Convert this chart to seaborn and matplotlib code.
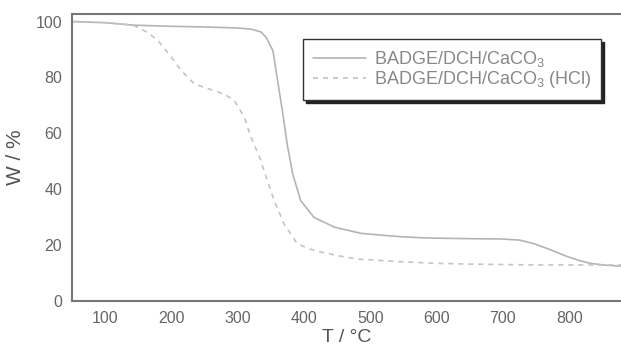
import matplotlib
matplotlib.use("Agg")
import matplotlib.pyplot as plt
import seaborn as sns
import pandas as pd

# TGA curves: temperature (°C) vs residual weight (%)
temp_neat = [52, 100, 144, 200, 245, 300, 320, 335, 343, 353, 360, 368, 375, 383,
             395, 415, 446, 486, 520, 546, 570, 596, 650, 697, 725, 747, 770, 797,
             815, 831, 855, 877, 880]
weight_neat = [100, 99.6, 98.7, 98.3, 98.1, 97.7, 97.3, 96.3, 94.3, 89.6, 79.0, 67.0,
               55.5, 45.4, 35.9, 29.9, 26.4, 24.2, 23.5, 23.0, 22.7, 22.5, 22.3,
               22.2, 21.8, 20.5, 18.5, 15.9, 14.5, 13.5, 12.8, 12.5, 12.5]

temp_hcl = [52, 100, 130, 144, 164, 180, 200, 215, 235, 265, 280, 295, 310, 320,
            333, 343, 355, 370, 390, 416, 451, 481, 550, 596, 650, 747, 847, 880]
weight_hcl = [100, 99.6, 99.0, 98.5, 96.1, 93.1, 87.2, 82.4, 77.6, 75.2, 74.0, 71.7,
              65.7, 58.6, 51.4, 44.3, 35.9, 27.5, 20.4, 18.0, 16.2, 15.0, 14.0,
              13.5, 13.2, 12.9, 12.9, 12.9]

label_neat = "BADGE/DCH/CaCO$_3$"
label_hcl = "BADGE/DCH/CaCO$_3$ (HCl)"

x_ticks = [100, 200, 300, 400, 500, 600, 700, 800]
y_ticks = [0, 20, 40, 60, 80, 100]

sns.set_theme(style="white")
plt.rcParams["font.family"] = ["Liberation Sans", "DejaVu Sans"]
plt.rcParams["mathtext.fontset"] = "custom"
plt.rcParams["mathtext.rm"] = "Liberation Sans"

df = pd.concat([
    pd.DataFrame({"T": temp_neat, "W": weight_neat, "sample": label_neat}),
    pd.DataFrame({"T": temp_hcl, "W": weight_hcl, "sample": label_hcl}),
])

fig = plt.figure(figsize=(6.21, 3.47), dpi=100)
ax = fig.add_axes([0.116, 0.1326, 0.886, 0.827])

sns.lineplot(data=df, x="T", y="W", hue="sample", style="sample",
             palette={label_neat: "#b4b4b4", label_hcl: "#c4c4c4"},
             dashes={label_neat: "", label_hcl: (3, 3)},
             linewidth=1.2, ax=ax, sort=False)

ax.set_xlim(50, 880)
ax.set_ylim(0, 102.7)
ax.set_xticks(x_ticks)
ax.set_yticks(y_ticks)
ax.tick_params(axis="both", length=0, labelsize=11.5, labelcolor="#666666", pad=7)

for side in ["left", "bottom", "top", "right"]:
    ax.spines[side].set_color("#777777")
    ax.spines[side].set_linewidth(1.5)

ax.set_xlabel("T / °C", fontsize=14, color="#555555", labelpad=2.5)
ax.set_ylabel("W / %", fontsize=15, color="#555555", labelpad=8)

leg = ax.legend(loc="upper left", bbox_to_anchor=(0.42, 0.913), frameon=True,
                fancybox=False, shadow={"color": "#222222", "alpha": 1.0},
                fontsize=13, handlelength=2.95, borderpad=0.55, labelspacing=0.0,
                handletextpad=0.4, borderaxespad=0.0)
leg.get_frame().set_edgecolor("#333333")
leg.get_frame().set_linewidth(1.0)
for t in leg.get_texts():
    t.set_color("#888888")

fig.savefig("out.png", dpi=100)
